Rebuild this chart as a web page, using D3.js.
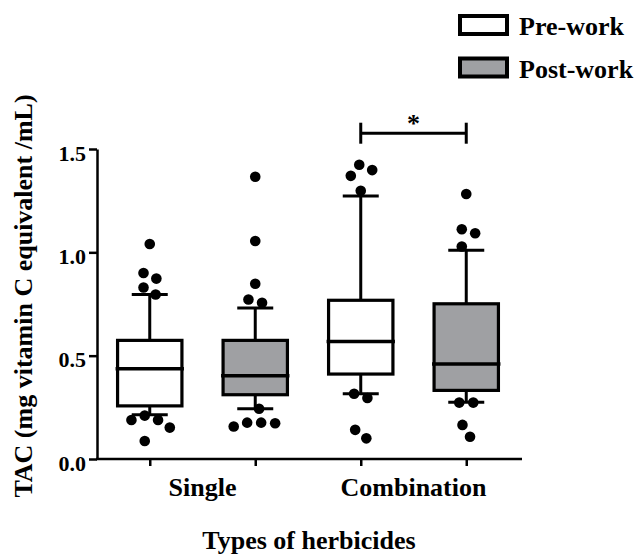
<!DOCTYPE html>
<html>
<head>
<meta charset="utf-8">
<script src="https://cdn.jsdelivr.net/npm/d3@7"></script>
<style>
  body { margin: 0; background: #fff; }
  svg text { font-family: "Liberation Serif", "Times New Roman", serif; font-weight: bold; fill: #000; }
</style>
</head>
<body>
<svg id="chart" width="636" height="554"></svg>
<script>
// groups on the x axis and the two series inside each
const categories = ["Single", "Combination"];
const seriesNames = ["Pre-work", "Post-work"];
const seriesFill = ["#ffffff", "#9fa0a3"];

// box statistics, order: Single pre, Single post, Combination pre, Combination post
const whiskerLow  = [0.214, 0.243, 0.316, 0.275];
const q1          = [0.257, 0.311, 0.411, 0.332];
const median      = [0.437, 0.403, 0.569, 0.460];
const q3          = [0.574, 0.574, 0.768, 0.751];
const whiskerHigh = [0.796, 0.731, 1.273, 1.010];

// individual points drawn outside / at the whisker ends
const singlePrePoints  = [1.040, 0.900, 0.873, 0.830, 0.796, 0.210, 0.189, 0.189, 0.152, 0.087];
const singlePostPoints = [1.366, 1.055, 0.848, 0.772, 0.756, 0.243, 0.176, 0.176, 0.173, 0.157];
const combPrePoints    = [1.424, 1.398, 1.370, 1.298, 0.316, 0.295, 0.141, 0.100];
const combPostPoints   = [1.282, 1.112, 1.092, 1.028, 0.273, 0.273, 0.165, 0.108];
const pointSets = [singlePrePoints, singlePostPoints, combPrePoints, combPostPoints];

const yTicks = [0.0, 0.5, 1.0, 1.5];
const significance = [{ category: "Combination", label: "*" }];

const svg = d3.select('#chart');

// one key per box
const boxes = [];
categories.forEach(c => seriesNames.forEach((s, j) => {
  boxes.push({ key: c + '|' + s, category: c, series: j });
}));
boxes.forEach((b, i) => {
  b.lo = whiskerLow[i]; b.q1 = q1[i]; b.med = median[i]; b.q3 = q3[i]; b.hi = whiskerHigh[i];
  b.points = pointSets[i];
});

const x = d3.scalePoint().domain(boxes.map(b => b.key)).range([97, 519]).padding(0.5);
const y = d3.scaleLinear().domain([0, 1.5]).range([459, 149]);

// y axis
const yAxis = svg.append('g')
  .attr('transform', 'translate(97,0)')
  .call(d3.axisLeft(y).tickValues(yTicks).tickFormat(d3.format('.1f')).tickSize(8).tickSizeOuter(0));
yAxis.select('.domain').attr('stroke-width', 2.5);
yAxis.selectAll('.tick line').attr('stroke-width', 2.5);
yAxis.selectAll('.tick text').attr('font-size', 22).attr('dy', '0.5em');

// x axis, ticks under each box
const xAxis = svg.append('g')
  .attr('transform', 'translate(0,459)')
  .call(d3.axisBottom(x).tickSize(7).tickFormat(''));
xAxis.select('.domain').remove();
xAxis.selectAll('.tick line').attr('stroke-width', 2.5);
xAxis.append('line')
  .attr('x1', 96).attr('x2', 522)
  .attr('stroke', '#000').attr('stroke-width', 2.5);

// category labels centred between their two boxes
svg.append('g').selectAll('text').data(categories)
  .enter().append('text')
    .attr('x', c => d3.mean(seriesNames, s => x(c + '|' + s)))
    .attr('y', 496)
    .attr('text-anchor', 'middle')
    .attr('font-size', 26)
    .text(c => c);

svg.append('text')
  .attr('x', 309).attr('y', 549)
  .attr('text-anchor', 'middle')
  .attr('font-size', 26)
  .text('Types of herbicides');

svg.append('text')
  .attr('transform', 'translate(32,296) rotate(-90)')
  .attr('text-anchor', 'middle')
  .attr('font-size', 26)
  .text('TAC (mg vitamin C equivalent /mL)');

// boxes
const boxW = x.step() * 0.61;
const capW = 18;
const bg = svg.append('g').selectAll('g').data(boxes)
  .enter().append('g')
    .attr('transform', b => 'translate(' + x(b.key) + ',0)');

bg.append('line')
  .attr('y1', b => y(b.hi)).attr('y2', b => y(b.q3))
  .attr('stroke', '#000').attr('stroke-width', 3);
bg.append('line')
  .attr('y1', b => y(b.q1)).attr('y2', b => y(b.lo))
  .attr('stroke', '#000').attr('stroke-width', 3);
bg.append('line')
  .attr('x1', -capW).attr('x2', capW)
  .attr('y1', b => y(b.hi)).attr('y2', b => y(b.hi))
  .attr('stroke', '#000').attr('stroke-width', 3);
bg.append('line')
  .attr('x1', -capW).attr('x2', capW)
  .attr('y1', b => y(b.lo)).attr('y2', b => y(b.lo))
  .attr('stroke', '#000').attr('stroke-width', 3);
bg.append('rect')
  .attr('x', -boxW / 2).attr('width', boxW)
  .attr('y', b => y(b.q3)).attr('height', b => y(b.q1) - y(b.q3))
  .attr('fill', b => seriesFill[b.series])
  .attr('stroke', '#000').attr('stroke-width', 3.2);
bg.append('line')
  .attr('x1', -boxW / 2 - 2).attr('x2', boxW / 2 + 2)
  .attr('y1', b => y(b.med)).attr('y2', b => y(b.med))
  .attr('stroke', '#000').attr('stroke-width', 3.5);

// simple beeswarm so dots with close values spread sideways
const swarm = (values) => {
  const D = 14;
  const pts = values.map(v => ({ v: v, py: y(v), dx: 0 }));
  const order = pts.slice().sort((a, b) => b.v - a.v);
  const placed = [];
  order.forEach(p => {
    const intervals = [];
    placed.forEach(q => {
      const dy = Math.abs(q.py - p.py);
      if (dy < D) {
        const w = Math.sqrt(D * D - dy * dy);
        intervals.push([q.dx - w, q.dx + w]);
      }
    });
    const cands = [0];
    intervals.forEach(([a, b]) => cands.push(a, b));
    cands.sort((a, b) => Math.abs(a) - Math.abs(b) || b - a);
    p.dx = cands.find(c => intervals.every(([a, b]) => c <= a + 1e-6 || c >= b - 1e-6));
    placed.push(p);
  });
  // centre each chain of touching rows
  let cluster = [];
  const flush = () => {
    const m = d3.mean(cluster, p => p.dx);
    cluster.forEach(p => { p.dx -= m; });
    cluster = [];
  };
  order.forEach((p, i) => {
    if (i > 0 && p.py - order[i - 1].py >= D) flush();
    cluster.push(p);
  });
  flush();
  return pts;
};

bg.selectAll('circle').data(b => swarm(b.points))
  .enter().append('circle')
    .attr('cx', p => p.dx)
    .attr('cy', p => p.py)
    .attr('r', 5.3)
    .attr('fill', '#000');

// significance bracket
significance.forEach(s => {
  const x1 = x(s.category + '|' + seriesNames[0]);
  const x2 = x(s.category + '|' + seriesNames[1]);
  const top = d3.max(boxes.filter(b => b.category === s.category), b => d3.max(b.points));
  const by = y(top) - 31.5;
  const g = svg.append('g').attr('stroke', '#000').attr('stroke-width', 3);
  g.append('line').attr('x1', x1).attr('x2', x2).attr('y1', by).attr('y2', by);
  g.append('line').attr('x1', x1).attr('x2', x1).attr('y1', by - 10.5).attr('y2', by + 10.5);
  g.append('line').attr('x1', x2).attr('x2', x2).attr('y1', by - 10.5).attr('y2', by + 10.5);
  svg.append('text')
    .attr('x', (x1 + x2) / 2).attr('y', by - 1)
    .attr('text-anchor', 'middle')
    .attr('font-size', 26)
    .text(s.label);
});

// legend
const legend = svg.append('g').selectAll('g').data(seriesNames)
  .enter().append('g')
    .attr('transform', (d, i) => 'translate(0,' + (i * 42.5) + ')');
legend.append('rect')
  .attr('x', 460).attr('y', 16)
  .attr('width', 47).attr('height', 18)
  .attr('fill', (d, i) => seriesFill[i])
  .attr('stroke', '#000').attr('stroke-width', 4);
legend.append('text')
  .attr('x', 519).attr('y', 35)
  .attr('font-size', 26)
  .text(d => d);
</script>
</body>
</html>
